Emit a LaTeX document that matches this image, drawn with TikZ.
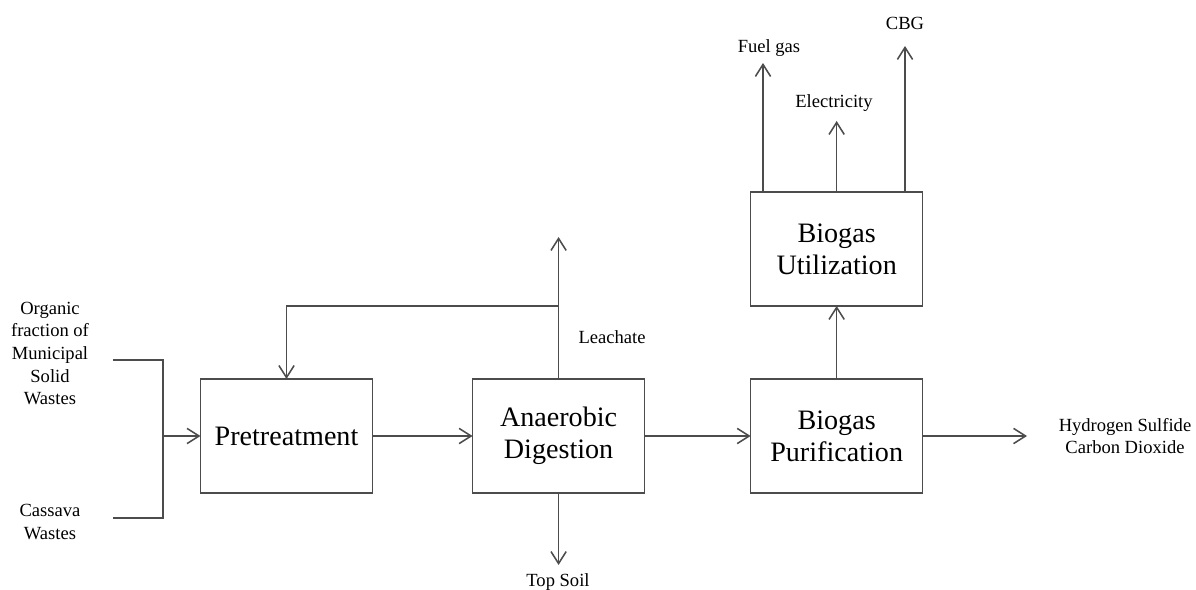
\documentclass[tikz,border=0pt]{standalone}
\usepackage{fontspec}
\IfFontExistsTF{LiberationSerif-Regular.ttf}
  {\setmainfont{LiberationSerif-Regular.ttf}[BoldFont=LiberationSerif-Bold.ttf]}
  {\setmainfont{Liberation Serif}}
\usepackage{tikz}
\usetikzlibrary{positioning, arrows.meta}

\begin{document}
\begin{tikzpicture}[
        x=0.025cm, y=-0.025cm,
        box/.style={draw=black!70, line width=1.1pt, align=center, inner sep=0pt, outer sep=0pt,
            minimum width=4.3cm, minimum height=2.85cm, font=\rmfamily\fontsize{20}{22.7}\selectfont},
        lbl/.style={align=center, inner sep=0pt, font=\rmfamily\fontsize{13.2}{16.1}\selectfont},
        arr/.style={-{Straight Barb[length=3mm, width=3.8mm, line width=1.1pt]}, draw=black!70, line width=1.1pt},
        ln/.style={draw=black!70, line width=1.1pt}
    ]
    \useasboundingbox (0,0) rectangle (1196,590);
    % Boxes: main row
    \node[box] (pre) at (286.5,436) {Pretreatment};
    \node[box, right=2.5cm of pre] (an) {Anaerobic\\Digestion};
    \node[box, right=2.65cm of an] (pur) {Biogas\\Purification};
    \node[box, above=1.825cm of pur] (ut) {Biogas\\Utilization};
    % Feed streams
    \node[lbl] (ofmsw) at (50,353.5) {Organic\\fraction of\\Municipal\\Solid\\Wastes};
    \node[lbl] (cas) at (50,522) {Cassava\\Wastes};
    \coordinate (b1) at (113,360);
    \coordinate (b2) at (113,518);
    \coordinate (bj) at (163,436);
    % Outlet labels
    \node[lbl] (leachate) at (612,337) {Leachate};
    \node[lbl] (soil) at (558,582) {Top Soil};
    \node[lbl] (gasout) at (1125,436) {Hydrogen Sulfide\\Carbon Dioxide};
    \node[lbl] (fuel) at (769,48) {Fuel gas};
    \node[lbl] (elec) at (834,103) {Electricity};
    \node[lbl] (cbg) at (905,23) {CBG};
    % Arrow end points
    \coordinate (leachtip) at (558,237);
    \coordinate (fb) at (558,306);
    \coordinate (soiltip) at (558,565);
    \coordinate (gastip) at (1027,436);
    \coordinate (fueltip) at (763,63);
    \coordinate (electip) at (836,121);
    \coordinate (cbgtip) at (905,46);

    \draw[ln] (b1) -| (bj |- b2) -- (b2);
    \draw[arr] (bj) -- (pre.west);
    \draw[arr] (pre) -- (an);
    \draw[arr] (an) -- (pur);
    \draw[arr] (pur) -- (gastip);
    \draw[arr] (pur) -- (ut);
    \draw[arr] (an.north) -- (an.north |- leachtip);
    \draw[arr] (an.north |- fb) -| (pre.north);
    \draw[arr] (an.south) -- (an.south |- soiltip);
    \draw[arr] (fueltip |- ut.north) -- (fueltip);
    \draw[arr] (ut.north) -- (ut.north |- electip);
    \draw[arr] (cbgtip |- ut.north) -- (cbgtip);
\end{tikzpicture}
\end{document}
